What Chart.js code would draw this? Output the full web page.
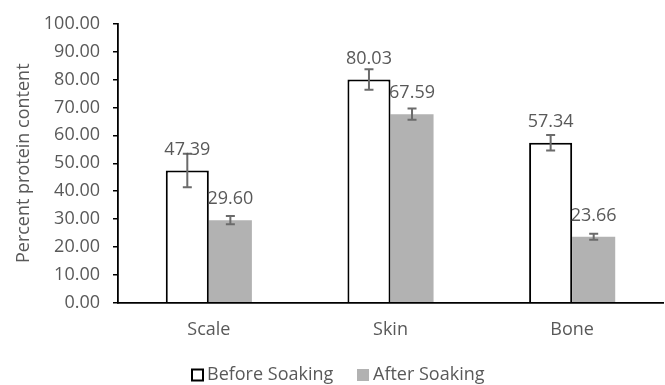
<!DOCTYPE html>
<html>
<head>
<meta charset="utf-8">
<script src="https://cdn.jsdelivr.net/npm/chart.js@4"></script>
<style>
  html, body { margin: 0; padding: 0; background: #ffffff; }
  #wrap { width: 665px; height: 385px; }
</style>
</head>
<body>
<div id="wrap"><canvas id="c" width="665" height="385"></canvas></div>
<script>
const categories = ['Scale', 'Skin', 'Bone'];
const seriesNames = ['Before Soaking', 'After Soaking'];
const beforeValues = [47.39, 80.03, 57.34];
const afterValues = [29.60, 67.59, 23.66];
const beforeErrors = [6.0, 3.7, 2.8];
const afterErrors = [1.5, 2.0, 1.05];
const yTicks = [0, 10, 20, 30, 40, 50, 60, 70, 80, 90, 100];

const FONT = '"Open Sans", "Liberation Sans", sans-serif';
const TEXT = '#595959';
const FS = 18;

const errorBarPlugin = {
  id: 'errorBars',
  afterDatasetsDraw(chart) {
    const ctx = chart.ctx;
    const y = chart.scales.y;
    chart.data.datasets.forEach((ds, di) => {
      const meta = chart.getDatasetMeta(di);
      meta.data.forEach((bar, i) => {
        const v = ds.data[i];
        const e = ds.errors[i];
        const yt = y.getPixelForValue(v + e);
        const yb = y.getPixelForValue(v - e);
        const x = bar.x;
        ctx.save();
        ctx.strokeStyle = '#6b6b6b';
        ctx.lineWidth = 2;
        ctx.beginPath();
        ctx.moveTo(x, yt); ctx.lineTo(x, yb);
        ctx.moveTo(x - 4.5, yt); ctx.lineTo(x + 4.5, yt);
        ctx.moveTo(x - 4.5, yb); ctx.lineTo(x + 4.5, yb);
        ctx.stroke();
        ctx.restore();
      });
    });
  }
};

const labelPlugin = {
  id: 'valueLabels',
  afterDatasetsDraw(chart) {
    const ctx = chart.ctx;
    chart.data.datasets.forEach((ds, di) => {
      const meta = chart.getDatasetMeta(di);
      meta.data.forEach((bar, i) => {
        ctx.save();
        ctx.font = FS + 'px ' + FONT;
        ctx.fillStyle = TEXT;
        ctx.textAlign = 'center';
        ctx.textBaseline = 'middle';
        ctx.fillText(ds.data[i].toFixed(2), bar.x, bar.y - 21);
        ctx.restore();
      });
    });
  }
};

const legendPlugin = {
  id: 'customLegend',
  afterDraw(chart) {
    const ctx = chart.ctx;
    const yc = 375;
    const items = [
      { x: 191, ds: chart.data.datasets[0] },
      { x: 357, ds: chart.data.datasets[1] }
    ];
    ctx.save();
    ctx.font = FS + 'px ' + FONT;
    ctx.textBaseline = 'middle';
    ctx.textAlign = 'left';
    items.forEach(it => {
      const ds = it.ds;
      if (ds.borderWidth > 0) {
        ctx.fillStyle = ds.backgroundColor;
        ctx.fillRect(it.x + 1, yc - 5.5, 11, 11);
        ctx.strokeStyle = ds.borderColor;
        ctx.lineWidth = 2;
        ctx.strokeRect(it.x + 1, yc - 5.5, 11, 11);
      } else {
        ctx.fillStyle = ds.backgroundColor;
        ctx.fillRect(it.x, yc - 6, 12, 12);
      }
      ctx.fillStyle = TEXT;
      ctx.fillText(ds.label, it.x + 16, yc);
    });
    ctx.restore();
  }
};

new Chart(document.getElementById('c'), {
  type: 'bar',
  data: {
    labels: categories,
    datasets: [
      {
        label: seriesNames[0],
        data: beforeValues,
        errors: beforeErrors,
        backgroundColor: '#ffffff',
        borderColor: '#000000',
        borderWidth: 2,
        categoryPercentage: 0.474,
        barPercentage: 1.0
      },
      {
        label: seriesNames[1],
        data: afterValues,
        errors: afterErrors,
        backgroundColor: '#b2b2b2',
        borderColor: '#b2b2b2',
        borderWidth: 0,
        categoryPercentage: 0.474,
        barPercentage: 1.0
      }
    ]
  },
  options: {
    responsive: false,
    animation: false,
    devicePixelRatio: 1,
    layout: { padding: { left: 0, right: 2, top: 16.7, bottom: 42.3 } },
    plugins: {
      legend: { display: false },
      tooltip: { enabled: false }
    },
    scales: {
      x: {
        grid: { display: false, drawTicks: false },
        border: { display: true, color: '#000000', width: 1.8 },
        ticks: { color: TEXT, font: { family: FONT, size: FS }, padding: 16 },
        afterFit(s) { s.height = 40; }
      },
      y: {
        min: 0,
        max: 100,
        afterBuildTicks(s) { s.ticks = yTicks.map(v => ({ value: v })); },
        grid: { display: true, drawOnChartArea: false, drawTicks: true, tickLength: 5, color: '#000000', lineWidth: 1.5 },
        border: { display: true, color: '#000000', width: 1.8 },
        ticks: {
          color: TEXT,
          font: { family: FONT, size: FS },
          padding: 13,
          callback: v => Number(v).toFixed(2)
        },
        title: {
          display: true,
          text: 'Percent protein content',
          color: TEXT,
          font: { family: FONT, size: FS },
          padding: { top: 13, bottom: 0 }
        },
        afterFit(s) { s.width = 118; }
      }
    }
  },
  plugins: [errorBarPlugin, labelPlugin, legendPlugin]
});
</script>
</body>
</html>
